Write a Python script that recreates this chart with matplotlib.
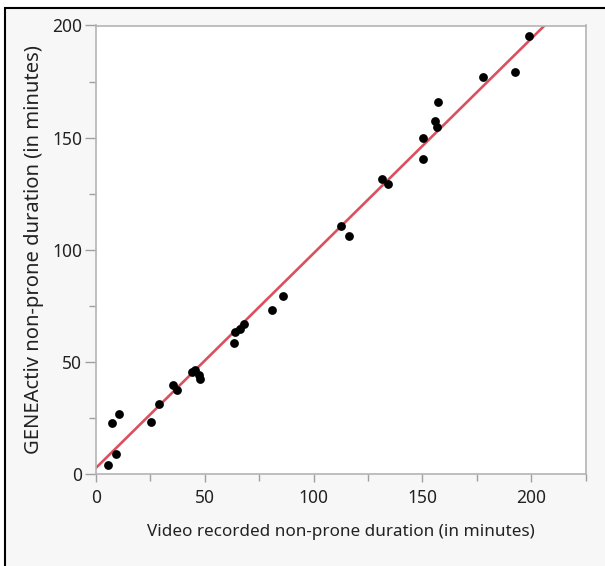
import numpy as np
import matplotlib
matplotlib.use("Agg")
import matplotlib.pyplot as plt
from matplotlib.patches import Rectangle

video_minutes = [5.7, 9.0, 7.2, 10.6, 25.1, 29.0, 35.5, 37.4, 44.0, 45.5, 47.5, 48.0,
                 63.4, 64.0, 66.0, 68.0, 80.8, 85.8, 112.6, 116.3, 131.6, 134.0,
                 150.2, 150.5, 156.0, 156.9, 157.1, 178.1, 192.6, 198.8]
geneactiv_minutes = [4.0, 8.9, 22.7, 26.6, 23.0, 31.2, 39.7, 37.5, 45.5, 46.5, 44.0, 42.5,
                     58.6, 63.5, 64.5, 66.9, 73.1, 79.4, 110.7, 106.3, 131.4, 129.2,
                     140.3, 150.0, 157.6, 154.6, 166.0, 177.2, 179.4, 195.3]
x_major = [0, 50, 100, 150, 200]
y_major = [0, 50, 100, 150, 200]
x_label = "Video recorded non-prone duration (in minutes)"
y_label = "GENEActiv non-prone duration (in minutes)"

plt.rcParams['font.family'] = ['Noto Sans', 'DejaVu Sans']

W, H = 605, 566
fig = plt.figure(figsize=(W / 100, H / 100), dpi=100)
fig.patch.set_facecolor('white')
frame = Rectangle((5 / W, -0.05), 1.1, (H - 8) / H + 0.05,
                  transform=fig.transFigure, facecolor='#f7f7f7',
                  edgecolor='black', linewidth=1.5, zorder=-10)
fig.add_artist(frame)

ax = fig.add_axes([96 / W, (H - 474) / H, (585.5 - 96) / W, (474 - 25.5) / H])
ax.set_zorder(1)
ax.set_facecolor('white')

xs = np.array(video_minutes)
ys = np.array(geneactiv_minutes)
slope, intercept = np.polyfit(xs, ys, 1)
lx = np.array([0, 230])
ax.plot(lx, slope * lx + intercept, color='#d9515e', linewidth=1.9, zorder=2)
ax.scatter(xs, ys, s=40, color='black', zorder=3, linewidths=0)

ax.set_xlim(0, 225)
ax.set_ylim(0, 200)
ax.set_xticks(x_major)
ax.set_yticks(y_major)
ax.set_xticks(np.arange(25, 230, 50), minor=True)
ax.set_yticks(np.arange(25, 200, 50), minor=True)

for s in ax.spines.values():
    s.set_color('#b4b4b4')
    s.set_linewidth(1.2)

ax.tick_params(axis='x', which='major', length=6, width=1, color='#a0a0a0',
               labelsize=12.5, labelcolor='#222222', pad=5)
ax.tick_params(axis='x', which='minor', length=5, width=1, color='#a0a0a0')
ax.tick_params(axis='y', which='major', length=8, width=1, color='#a0a0a0',
               labelsize=12.5, labelcolor='#222222', pad=2)
ax.tick_params(axis='y', which='minor', length=5, width=1, color='#a0a0a0')

ax.set_xlabel(x_label, fontsize=12.3, color='#222222', labelpad=12)
ax.set_ylabel(y_label, fontsize=14.5, color='#222222', labelpad=6)

fig.savefig('out.png', dpi=100, facecolor=fig.get_facecolor())
